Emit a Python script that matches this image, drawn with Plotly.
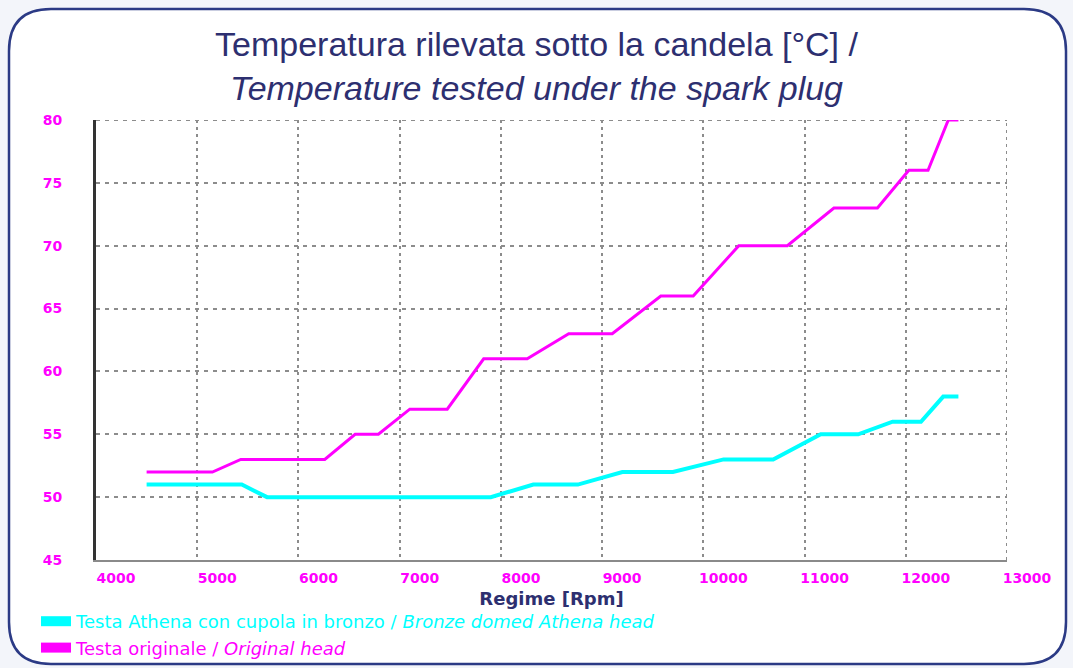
import plotly.graph_objects as go

# ---- data ----
rpm_bronze = [4500, 5440, 5690, 7900, 8320, 8760, 9200, 9700, 10200, 10690, 11160, 11530, 11870, 12150, 12370, 12520]
temp_bronze = [51, 51, 50, 50, 51, 51, 52, 52, 53, 53, 55, 55, 56, 56, 58, 58]

rpm_original = [4500, 5150, 5430, 6260, 6560, 6790, 7100, 7470, 7830, 8260, 8670, 9100, 9580, 9900,
                10350, 10830, 11290, 11720, 12030, 12220, 12420, 12520]
temp_original = [52, 52, 53, 53, 55, 55, 57, 57, 61, 61, 63, 63, 66, 66, 70, 70, 73, 73, 76, 76, 80, 80]

x_ticks = [4000, 5000, 6000, 7000, 8000, 9000, 10000, 11000, 12000, 13000]
y_ticks = [45, 50, 55, 60, 65, 70, 75, 80]

name_bronze = "Testa Athena con cupola in bronzo / <i>Bronze domed Athena head</i>"
name_original = "Testa originale / <i>Original head</i>"
title_text = "Temperatura rilevata sotto la candela [°C] /<br><i>Temperature tested under the spark plug</i>"
x_title = "Regime [Rpm]"

CYAN = "#00ffff"
MAGENTA = "#ff00ff"
NAVY = "#2d2f70"
GRID = "#8c8c8c"

W, H = 1073, 668
ML, MR, MT, MB = 96, 66, 120, 108
PW, PH = W - ML - MR, H - MT - MB


def px(x):
    return (x - ML) / PW


def py(y):
    return (H - MB - y) / PH


fig = go.Figure()

fig.add_trace(go.Scatter(x=rpm_bronze, y=temp_bronze, mode="lines",
                         line=dict(color=CYAN, width=4), showlegend=False, hoverinfo="x+y"))
fig.add_trace(go.Scatter(x=rpm_original, y=temp_original, mode="lines",
                         line=dict(color=MAGENTA, width=3), showlegend=False, hoverinfo="x+y"))

# legend entries (thick swatches)
fig.add_trace(go.Scatter(x=[None], y=[None], mode="lines", line=dict(color=CYAN, width=10),
                         name=f'<span style="color:{CYAN}">{name_bronze}</span>'))
fig.add_trace(go.Scatter(x=[None], y=[None], mode="lines", line=dict(color=MAGENTA, width=10),
                         name=f'<span style="color:{MAGENTA}">{name_original}</span>'))

# rounded frame
x0, x1, y0, y1, r = 9, 1066, 9, 664, 42
path = (f"M {px(x0 + r)},{py(y0)} L {px(x1 - r)},{py(y0)} "
        f"Q {px(x1)},{py(y0)} {px(x1)},{py(y0 + r)} "
        f"L {px(x1)},{py(y1 - r)} Q {px(x1)},{py(y1)} {px(x1 - r)},{py(y1)} "
        f"L {px(x0 + r)},{py(y1)} Q {px(x0)},{py(y1)} {px(x0)},{py(y1 - r)} "
        f"L {px(x0)},{py(y0 + r)} Q {px(x0)},{py(y0)} {px(x0 + r)},{py(y0)} Z")
fig.add_shape(type="path", path=path, xref="paper", yref="paper", layer="below",
              fillcolor="#ffffff", line=dict(color="#2b3a85", width=2.5))

# grid lines on the outer edges (last tick of each axis)
fig.add_shape(type="line", xref="x", yref="y", layer="between",
              x0=x_ticks[-1], x1=x_ticks[-1], y0=y_ticks[0], y1=y_ticks[-1],
              line=dict(color=GRID, width=2, dash="3px,4px"))
fig.add_shape(type="line", xref="x", yref="y", layer="between",
              x0=x_ticks[0], x1=x_ticks[-1], y0=y_ticks[-1], y1=y_ticks[-1],
              line=dict(color=GRID, width=2, dash="4px,5px"))

tick_font = dict(family="DejaVu Sans", size=14, color=MAGENTA, weight="bold")

fig.update_layout(
    width=W, height=H,
    margin=dict(l=ML, r=MR, t=MT, b=MB, autoexpand=False),
    paper_bgcolor="#f3f5fa",
    plot_bgcolor="rgba(0,0,0,0)",
    title=dict(text=title_text, x=0.5, xref="container", xanchor="center",
               y=1 - 56 / H, yref="container", yanchor="top",
               font=dict(family="Liberation Sans, Arial, sans-serif", size=34, color=NAVY)),
    legend=dict(x=px(36), y=py(603), xanchor="left", yanchor="top",
                bgcolor="rgba(0,0,0,0)", borderwidth=0, itemwidth=30, tracegroupgap=0,
                font=dict(family="DejaVu Sans, sans-serif", size=18, color=MAGENTA)),
    xaxis=dict(range=[4000, 13000], tickvals=x_ticks, ticktext=[str(v) for v in x_ticks],
               tickfont=tick_font, ticks="", ticklabelshift=20, ticklabelstandoff=4,
               showgrid=True, gridcolor=GRID, gridwidth=2, griddash="3px,4px",
               showline=True, linecolor="#8a8a8a", linewidth=2, zeroline=False,
               title=dict(text=x_title, standoff=8,
                          font=dict(family="DejaVu Sans", size=18, color=NAVY, weight="bold"))),
    yaxis=dict(range=[45, 80], tickvals=y_ticks, ticktext=[str(v) for v in y_ticks],
               tickfont=tick_font, ticks="", ticklabelstandoff=28,
               showgrid=True, gridcolor=GRID, gridwidth=2, griddash="4px,5px",
               showline=True, linecolor="#333333", linewidth=3, zeroline=False),
)

fig.write_html("out.html", config={"displayModeBar": False},
               post_script="document.body.style.margin='0';document.body.style.padding='0';")
